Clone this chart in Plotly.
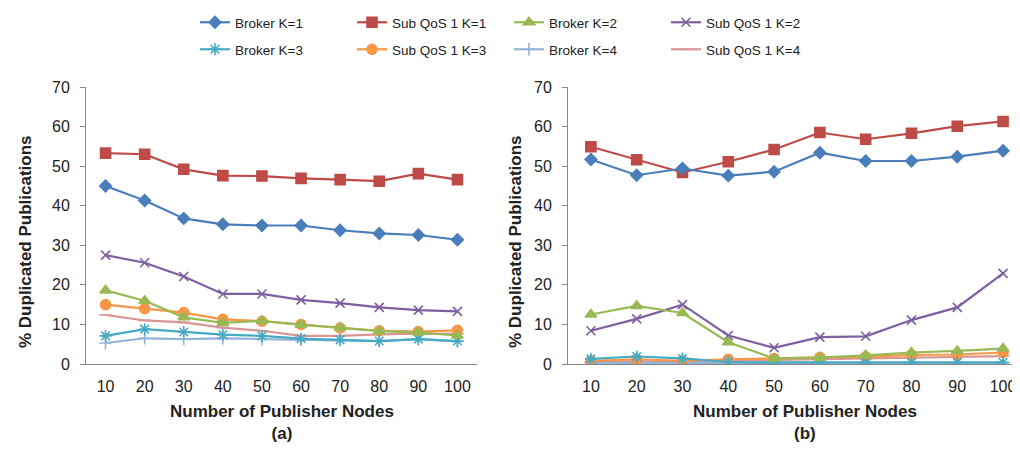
import plotly.graph_objects as go
from plotly.subplots import make_subplots

nodes = [10, 20, 30, 40, 50, 60, 70, 80, 90, 100]

series_names = ["Broker K=1", "Sub QoS 1 K=1", "Broker K=2", "Sub QoS 1 K=2",
                "Broker K=3", "Sub QoS 1 K=3", "Broker K=4", "Sub QoS 1 K=4"]

# Panel (a)
a_broker_k1 = [45.0, 41.3, 36.8, 35.3, 35.0, 35.0, 33.8, 33.0, 32.6, 31.4]
a_sub_k1 = [53.3, 53.0, 49.2, 47.6, 47.5, 46.9, 46.6, 46.2, 48.1, 46.6]
a_broker_k2 = [18.6, 16.0, 11.8, 10.4, 10.9, 9.9, 9.2, 8.3, 8.0, 7.2]
a_sub_k2 = [27.5, 25.6, 22.1, 17.7, 17.7, 16.2, 15.4, 14.3, 13.6, 13.3]
a_broker_k3 = [7.1, 8.8, 8.1, 7.4, 7.1, 6.4, 6.1, 5.8, 6.3, 5.8]
a_sub_k3 = [15.0, 14.0, 13.0, 11.3, 10.8, 10.0, 9.1, 8.4, 8.2, 8.5]
a_broker_k4 = [5.3, 6.5, 6.3, 6.5, 6.3, 6.1, 6.0, 5.8, 6.3, 5.7]
a_sub_k4 = [12.4, 11.0, 10.5, 9.2, 8.4, 7.1, 7.1, 7.5, 7.7, 7.6]

# Panel (b)
b_broker_k1 = [51.7, 47.7, 49.4, 47.6, 48.6, 53.4, 51.3, 51.3, 52.4, 53.9]
b_sub_k1 = [54.9, 51.6, 48.4, 51.1, 54.2, 58.5, 56.8, 58.3, 60.1, 61.3]
b_broker_k2 = [12.5, 14.7, 12.9, 5.5, 1.4, 1.6, 2.2, 2.9, 3.3, 3.9]
b_sub_k2 = [8.4, 11.4, 15.0, 7.2, 4.1, 6.8, 7.0, 11.1, 14.3, 22.9]
b_broker_k3 = [1.3, 1.9, 1.4, 0.5, 0.4, 0.4, 0.4, 0.4, 0.4, 0.4]
b_sub_k3 = [0.8, 1.2, 0.8, 1.2, 1.4, 1.7, 1.8, 2.3, 2.4, 2.9]
b_broker_k4 = [0.3, 0.3, 0.3, 0.3, 0.3, 0.3, 0.3, 0.3, 0.3, 0.3]
b_sub_k4 = [0.5, 0.7, 0.6, 0.8, 1.0, 1.2, 1.3, 1.6, 1.8, 2.0]

panel_a = [a_broker_k1, a_sub_k1, a_broker_k2, a_sub_k2, a_broker_k3, a_sub_k3, a_broker_k4, a_sub_k4]
panel_b = [b_broker_k1, b_sub_k1, b_broker_k2, b_sub_k2, b_broker_k3, b_sub_k3, b_broker_k4, b_sub_k4]

colors = ["#4A7EBB", "#BE4B48", "#98B954", "#7D60A0", "#46AAC5", "#F79646", "#95B3D7", "#D99694"]
symbols = ["diamond", "square", "triangle-up", "x-thin-open", "asterisk-open",
           "circle", "cross-thin-open", "line-ew-open"]
sizes = [9, 10, 10, 9, 10, 10, 9, 9]

FONT = "Liberation Sans, Arial, sans-serif"
TXT = "#222222"

# page has an 8px body margin: figure sized so the page does not scroll
W, H = 1012, 434

def px_x(p):
    return (p - 8) / W

def px_y(p):
    return 1 - (p - 8) / H

fig = make_subplots(rows=1, cols=2)

for col, panel in ((1, panel_a), (2, panel_b)):
    for i in [7, 6, 5, 4, 3, 2, 1, 0]:
        fig.add_trace(go.Scatter(
            x=nodes, y=panel[i], name=series_names[i], mode="lines+markers",
            line=dict(color=colors[i], width=2.2),
            marker=dict(symbol=symbols[i], size=sizes[i], color=colors[i],
                        line=dict(color=colors[i], width=1.6)),
            showlegend=(col == 1),
            legend="legend" if i < 4 else "legend2",
            legendrank=i,
        ), row=1, col=col)

axis_common = dict(showgrid=False, zeroline=False, showline=True, linecolor="#868686",
                   linewidth=1, tickfont=dict(family=FONT, size=16, color=TXT))

fig.update_xaxes(range=[5, 105], tickvals=nodes, ticks="", ticklabelstandoff=8,
                 row=1, col=1, **axis_common)
fig.update_xaxes(range=[5, 103.7], tickvals=nodes, ticks="", ticklabelstandoff=8,
                 ticklabeloverflow="allow", row=1, col=2, **axis_common)
fig.update_yaxes(range=[0, 70], dtick=10, ticks="outside", ticklen=5, tickcolor="#868686",
                 ticklabelstandoff=7, **axis_common)

legend_common = dict(orientation="h", xanchor="left", yanchor="top",
                     entrywidth=112, entrywidthmode="pixels", traceorder="normal",
                     font=dict(family=FONT, size=13.5, color=TXT), itemwidth=30,
                     bgcolor="rgba(0,0,0,0)")

fig.update_layout(
    width=W, height=H,
    margin=dict(l=0, r=0, t=0, b=0, autoexpand=False),
    paper_bgcolor="white", plot_bgcolor="white",
    xaxis=dict(domain=[px_x(86), px_x(477)]),
    xaxis2=dict(domain=[px_x(568), 1.0]),
    yaxis=dict(domain=[px_y(364), px_y(87)]),
    yaxis2=dict(domain=[px_y(364), px_y(87)]),
    legend=dict(x=px_x(195), y=px_y(7), **legend_common),
    legend2=dict(x=px_x(195), y=px_y(34), **legend_common),
)

ytitle = "% Duplicated Publications"
for xpix in (25, 515):
    fig.add_annotation(x=px_x(xpix), y=px_y(242), xref="paper", yref="paper",
                       xanchor="center", yanchor="middle",
                       text="<b>%s</b>" % ytitle, textangle=-90, showarrow=False,
                       font=dict(family=FONT, size=17, color=TXT))
for xpix, lab in ((282, "(a)"), (805, "(b)")):
    fig.add_annotation(x=px_x(xpix), y=px_y(422), xref="paper", yref="paper",
                       xanchor="center", yanchor="middle",
                       text="<b>Number of Publisher Nodes</b><br><b>%s</b>" % lab,
                       showarrow=False,
                       font=dict(family=FONT, size=17, color=TXT))

fig.write_html("out.html")
